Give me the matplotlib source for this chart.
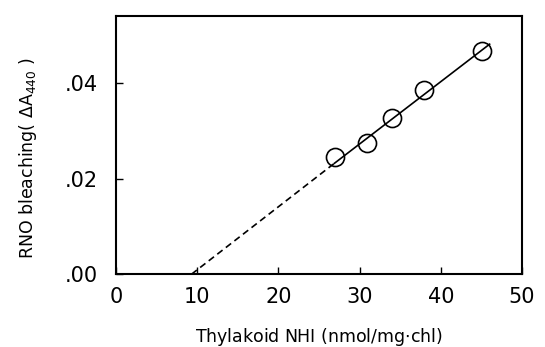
import numpy as np
import matplotlib
matplotlib.use('Agg')
import matplotlib.pyplot as plt

# data
nhi = [26.9, 30.9, 34.0, 37.9, 45.1]
bleach = [0.0245, 0.0274, 0.0327, 0.0385, 0.0467]
# regression line: dashed extrapolation then solid part
dash_x = [9.3, 26.9]
dash_y = [0.0, 0.0232]
solid_x = [26.9, 46.0]
solid_y = [0.0232, 0.0481]

xticks = [0, 10, 20, 30, 40, 50]
yticks = [0.0, 0.02, 0.04]
ylabels = ['.00', '.02', '.04']

plt.rcParams['font.family'] = 'DejaVu Sans'
fig = plt.figure(figsize=(5.45, 3.47), dpi=100)
ax = fig.add_axes([0.213, 0.210, 0.745, 0.744])

ax.plot(dash_x, dash_y, color='black', linestyle=(0, (4, 2.5)), linewidth=1.2)
ax.plot(solid_x, solid_y, color='black', linestyle='-', linewidth=1.2)
ax.plot(nhi, bleach, linestyle='none', marker='o', markersize=13,
        markerfacecolor='none', markeredgecolor='black', markeredgewidth=1.2)

ax.set_xlim(0, 50)
ax.set_ylim(0, 0.054)
ax.set_xticks(xticks)
ax.set_yticks(yticks)
ax.set_yticklabels(ylabels)
ax.tick_params(direction='in', length=5, width=1, labelsize=15)
ax.tick_params(axis='x', pad=9)
ax.tick_params(axis='y', pad=13)
for s in ax.spines.values():
    s.set_linewidth(1.5)

ax.set_xlabel('Thylakoid NHI (nmol/mg$\\cdot$chl)', fontsize=12.5)
ax.set_ylabel('RNO bleaching( $\\Delta$A$_{440}$ )', fontsize=12.5)
ax.xaxis.set_label_coords(0.5, -0.2)
ax.yaxis.set_label_coords(-0.19, 0.45)

fig.savefig('out.png', dpi=100)
